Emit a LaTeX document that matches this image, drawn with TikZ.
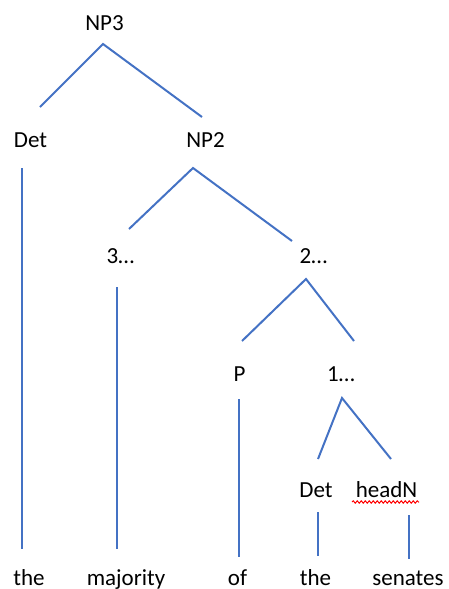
\documentclass[tikz,border=0pt]{standalone}
\usepackage{fontspec}
\setmainfont{Carlito}
\usetikzlibrary{decorations.pathmorphing}
\definecolor{branchblue}{RGB}{68,114,196}

\begin{document}
\begin{tikzpicture}[x=0.5pt,y=-0.5pt,
        word/.style={font={\fontsize{11.5}{13}\selectfont}, black, anchor=base, inner sep=0pt},
        branch/.style={draw=branchblue, line width=1pt}]
        \useasboundingbox (0,0) rectangle (449,589);

        % labels of the tree
        \node[word] (np3) at (104.5,31) {NP3};
        \node[word] (det1) at (30.5,147) {Det};
        \node[word] (np2) at (205.5,147) {NP2};
        \node[word] (three) at (120.5,263) {3\dots};
        \node[word] (two) at (313.5,263) {2\dots};
        \node[word] (prep) at (239.5,381) {P};
        \node[word] (one) at (341,381) {1\dots};
        \node[word] (det2) at (316,497) {Det};
        \node[word] (headn) at (386.5,497) {headN};

        % words
        \node[word] (wthe1) at (29,585) {the};
        \node[word] (wmaj) at (126,585) {majority};
        \node[word] (wof) at (237.5,585) {of};
        \node[word] (wthe2) at (315.5,585) {the};
        \node[word] (wsen) at (408,585) {senates};

        % branch ends
        \coordinate (np3top) at (103,44);
        \coordinate (np3l) at (40,107);
        \coordinate (np3r) at (202,117);
        \coordinate (np2top) at (193,168);
        \coordinate (np2l) at (129,229);
        \coordinate (np2r) at (292,241);
        \coordinate (twotop) at (306,279);
        \coordinate (twol) at (242,341);
        \coordinate (twor) at (354,341);
        \coordinate (onetop) at (342,398);
        \coordinate (onel) at (318,459);
        \coordinate (oner) at (391,459);

        \draw[branch] (np3l) -- (np3top) -- (np3r);
        \draw[branch] (np2l) -- (np2top) -- (np2r);
        \draw[branch] (twol) -- (twotop) -- (twor);
        \draw[branch] (onel) -- (onetop) -- (oner);

        % vertical stems
        \coordinate (s1a) at (21.5,168);  \coordinate (s1b) at (21.5,549);
        \coordinate (s2a) at (117,287);   \coordinate (s2b) at (117,549);
        \coordinate (s3a) at (238.5,399); \coordinate (s3b) at (238.5,557);
        \coordinate (s4a) at (318,512);   \coordinate (s4b) at (318,556);
        \coordinate (s5a) at (409,515);   \coordinate (s5b) at (409,559);
        \foreach \s in {1,...,5}
            \draw[branch] (s\s a) -- (s\s b);

        % spell check squiggle
        \coordinate (sqa) at (352,502);
        \coordinate (sqb) at (419,502);
        \draw[red, line width=0.5pt, decorate,
            decoration={snake, segment length=2pt, amplitude=0.6pt}] (sqa) -- (sqb);
    \end{tikzpicture}
\end{document}
